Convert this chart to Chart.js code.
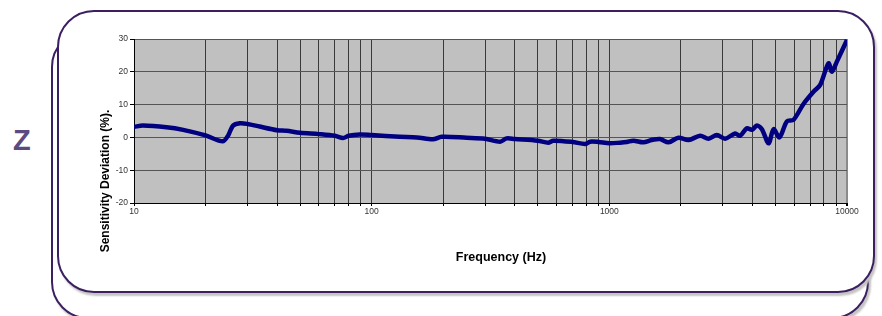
<!DOCTYPE html>
<html>
<head>
<meta charset="utf-8">
<script src="https://cdn.jsdelivr.net/npm/chart.js@4.4.1/dist/chart.umd.min.js"></script>
<style>
  html, body { margin: 0; padding: 0; background: #fff; }
  #wrap { position: relative; width: 882px; height: 316px; overflow: hidden; }
  .card {
    position: absolute; box-sizing: border-box; background: #fff;
    border: 2px solid #3b1f60; border-radius: 37px;
    box-shadow: 2px 3px 2px #c4c4c4;
  }
  #back { left: 51px; top: 30px; width: 818px; height: 289px; }
  #front { left: 57px; top: 10px; width: 818px; height: 283px; }
  #zlabel {
    position: absolute; left: 13px; top: 124px;
    font: bold 29px "Liberation Sans", Arial, sans-serif; color: #5b4b7f;
  }
  #chart { position: absolute; left: 0; top: 0; }
</style>
</head>
<body>
<div id="wrap">
  <div class="card" id="back"></div>
  <div class="card" id="front"></div>
  <div id="zlabel">Z</div>
  <canvas id="chart" width="882" height="316"></canvas>
</div>
<script>
// frequency (Hz) and sensitivity deviation (%)
const freqHz = [10, 10.9, 13.7, 16.1, 20, 23.6, 24.9, 26.1, 27.9, 30, 33.8, 40, 43.8, 50, 60, 70, 75.8, 80, 89, 100,
  131, 155, 181, 197, 251, 300, 347, 370, 400, 500, 553, 581, 700, 791, 830, 900, 1000,
  1109, 1183, 1262, 1391, 1507, 1634, 1774, 1954, 2153, 2411, 2613, 2833, 3071, 3383, 3550, 3790, 3978,
  4177, 4385, 4677, 4909, 5200, 5587, 5960, 6560, 7228, 7713, 8360, 8638, 9065, 10000];
const deviation = [3.2, 3.6, 3.1, 2.3, 0.6, -1.2, 0.6, 3.6, 4.3, 4.1, 3.3, 2.2, 2.0, 1.4, 1.0, 0.5, -0.2, 0.5, 0.9, 0.7,
  0.2, 0.0, -0.6, 0.2, -0.1, -0.4, -1.3, -0.3, -0.5, -1.0, -1.6, -1.0, -1.4, -2.0, -1.3, -1.4, -1.8,
  -1.6, -1.4, -1.0, -1.5, -0.8, -0.5, -1.5, -0.1, -0.8, 0.5, -0.4, 0.7, -0.4, 1.2, 0.5, 2.8, 2.3,
  3.6, 2.5, -1.8, 2.5, 0.0, 4.9, 5.4, 10.2, 13.9, 16.0, 22.6, 20.0, 23.1, 29.7];

const xLabels = [10, 100, 1000, 10000];
const yMin = -20, yMax = 30, yStep = 10;
const xTitle = 'Frequency (Hz)';
const yTitle = 'Sensitivity Deviation (%).';

// gridlines at 1..9 x each decade
const xGrid = [];
for (let d = 0; d < xLabels.length - 1; d++) {
  for (let m = 1; m < 10; m++) xGrid.push(m * xLabels[d]);
}
xGrid.push(xLabels[xLabels.length - 1]);

const tickFont = { family: '"Liberation Sans", Arial, sans-serif', size: 8.5 };

const plotBg = {
  id: 'plotBg',
  beforeDraw(chart) {
    const { ctx, chartArea: a } = chart;
    ctx.save();
    ctx.fillStyle = '#c0c0c0';
    ctx.fillRect(a.left, a.top, a.right - a.left, a.bottom - a.top);
    ctx.restore();
  }
};

const axisTitles = {
  id: 'axisTitles',
  afterDraw(chart) {
    const ctx = chart.ctx;
    ctx.save();
    ctx.fillStyle = '#000';
    ctx.textAlign = 'center';
    ctx.textBaseline = 'middle';
    ctx.font = 'bold 12.5px "Liberation Sans", Arial, sans-serif';
    ctx.fillText(xTitle, 501, 258);
    ctx.translate(106, 181);
    ctx.rotate(-Math.PI / 2);
    ctx.font = 'bold 12px "Liberation Sans", Arial, sans-serif';
    ctx.fillText(yTitle, 0, 0);
    ctx.restore();
  }
};

function noPad(scale) {
  scale.paddingLeft = 0; scale.paddingRight = 0;
  scale.paddingTop = 0; scale.paddingBottom = 0;
}

new Chart(document.getElementById('chart'), {
  type: 'line',
  data: {
    datasets: [{
      data: freqHz.map((f, i) => ({ x: f, y: deviation[i] })),
      borderColor: '#000080',
      borderWidth: 4.5,
      pointRadius: 0,
      tension: 0.3,
      fill: false
    }]
  },
  options: {
    responsive: false,
    animation: false,
    devicePixelRatio: 1,
    parsing: false,
    layout: { padding: { left: 104, right: 35, top: 39, bottom: 93 } },
    plugins: { legend: { display: false }, tooltip: { enabled: false } },
    scales: {
      x: {
        type: 'logarithmic',
        min: 10,
        max: 10000,
        afterBuildTicks: s => { s.ticks = xGrid.map(v => ({ value: v })); },
        afterFit: s => { s.height = 20; noPad(s); },
        border: { display: true, color: '#000', width: 1 },
        grid: {
          color: c => (c.tick && c.tick.value === 10000) ? '#8a8a8a' : '#3a3a3a',
          lineWidth: c => (c.tick && c.tick.value === 10000) ? 2 : 1,
          tickLength: 3,
          tickColor: '#000'
        },
        ticks: {
          autoSkip: false,
          maxRotation: 0,
          padding: 1,
          color: '#333',
          font: tickFont,
          callback: v => xLabels.includes(v) ? String(v) : ''
        }
      },
      y: {
        min: yMin,
        max: yMax,
        afterFit: s => { s.width = 30; noPad(s); },
        border: { display: true, color: '#000', width: 1 },
        grid: {
          color: '#555',
          lineWidth: 1,
          tickLength: 4,
          tickColor: '#000'
        },
        ticks: {
          stepSize: yStep,
          padding: 2,
          color: '#333',
          font: tickFont
        }
      }
    }
  },
  plugins: [plotBg, axisTitles]
});
</script>
</body>
</html>
